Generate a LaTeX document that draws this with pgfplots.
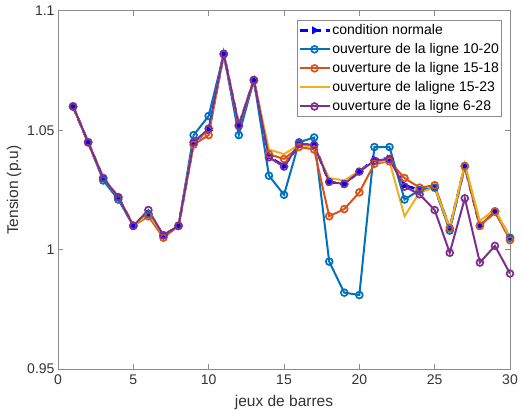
\documentclass[border=0pt]{standalone}
\usepackage{pgfplots}
\pgfplotsset{compat=1.18}
\usepackage{fontspec}
\setmainfont{Liberation Sans}

\definecolor{mblue}{rgb}{0,0.447,0.741}
\definecolor{morange}{rgb}{0.85,0.325,0.098}
\definecolor{myellow}{rgb}{0.929,0.694,0.125}
\definecolor{mpurple}{rgb}{0.494,0.184,0.556}
\definecolor{axgray}{gray}{0.55}
\definecolor{txtgray}{gray}{0.2}

\pgfplotstableread{
bus normal l1020 l1518 l1523 l628
1  1.060 1.060 1.060 1.060 1.060
2  1.045 1.045 1.045 1.045 1.045
3  1.030 1.029 1.030 1.030 1.030
4  1.022 1.021 1.022 1.022 1.022
5  1.010 1.010 1.010 1.010 1.010
6  1.015 1.015 1.014 1.015 1.0166
7  1.006 1.006 1.005 1.006 1.006
8  1.010 1.010 1.010 1.010 1.010
9  1.045 1.048 1.044 1.045 1.045
10 1.050 1.056 1.048 1.050 1.0507
11 1.082 1.082 1.082 1.082 1.082
12 1.052 1.048 1.052 1.052 1.052
13 1.071 1.071 1.071 1.071 1.071
14 1.039 1.031 1.040 1.042 1.0387
15 1.035 1.023 1.038 1.040 1.0348
16 1.044 1.045 1.043 1.044 1.0443
17 1.044 1.047 1.042 1.043 1.0439
18 1.0284 0.995 1.014 1.030 1.0284
19 1.0275 0.982 1.017 1.029 1.0275
20 1.0327 0.981 1.024 1.033 1.0327
21 1.0378 1.043 1.036 1.037 1.0373
22 1.0382 1.043 1.037 1.037 1.038
23 1.027 1.021 1.030 1.014 1.0264
24 1.025 1.025 1.026 1.024 1.0232
25 1.026 1.026 1.027 1.026 1.0166
26 1.009 1.008 1.009 1.009 0.9987
27 1.035 1.035 1.035 1.036 1.0215
28 1.010 1.010 1.010 1.012 0.9946
29 1.016 1.016 1.016 1.017 1.0016
30 1.005 1.005 1.004 1.005 0.990
}\volt

\begin{document}
\begin{tikzpicture}
\begin{axis}[
  name=ax,
  at={(0,0)}, anchor=south west,
  scale only axis,
  width=452pt, height=358pt,
  xmin=0, xmax=30, ymin=0.95, ymax=1.1,
  xtick={0,5,...,30},
  ytick={0.95,1,1.05,1.1},
  yticklabels={0.95,1,1.05,1.1},
  tick align=inside,
  major tick length=5pt,
  axis line style={axgray, line width=1pt},
  tick style={axgray, line width=1pt},
  every tick label/.append style={font=\fontsize{14}{16}\selectfont, text=txtgray},
  xticklabel style={yshift=-2pt},
  /pgf/number format/assume math mode=true,
  xlabel={jeux de barres},
  ylabel={Tension (p.u)},
  label style={font=\fontsize{15.5}{18}\selectfont, text=txtgray},
  xlabel style={yshift=-4pt},
  ylabel style={yshift=-1pt},
  legend cell align=left,
  legend style={at={(0.982,0.975)}, anchor=north east,
    font=\fontsize{14}{16}\selectfont, draw=axgray, line width=1pt,
    inner xsep=1pt, inner ysep=2pt, row sep=3.4pt, text=black,
    nodes={inner xsep=1.5pt}},
  legend image code/.code={%
    \draw[mark repeat=2, mark phase=2, #1]
      plot coordinates {(0pt,0pt) (15pt,0pt) (30pt,0pt)};},
]
\addplot[blue, dash pattern=on 8pt off 5pt, line width=2.6pt, mark=triangle*, mark size=2pt,
  mark options={solid, rotate=-90, fill=blue}] table[x=bus, y=normal] {\volt};
\addlegendentry{condition normale}
\addplot[mblue, line width=2pt, mark=o, mark size=3.4pt,
  mark options={solid, line width=1.7pt}] table[x=bus, y=l1020] {\volt};
\addlegendentry{ouverture de la ligne 10-20}
\addplot[morange, line width=2pt, mark=o, mark size=3.4pt,
  mark options={solid, line width=1.7pt}] table[x=bus, y=l1518] {\volt};
\addlegendentry{ouverture de la ligne 15-18}
\addplot[myellow, line width=2pt, no marks] table[x=bus, y=l1523] {\volt};
\addlegendentry{ouverture de laligne 15-23}
\addplot[mpurple, line width=2pt, mark=o, mark size=3.4pt,
  mark options={solid, line width=1.7pt}] table[x=bus, y=l628] {\volt};
\addlegendentry{ouverture de la ligne 6-28}
\end{axis}
\pgfresetboundingbox
\path ([shift={(-58pt,-41pt)}]ax.south west) rectangle ([shift={(15pt,11pt)}]ax.north east);
\end{tikzpicture}
\end{document}
